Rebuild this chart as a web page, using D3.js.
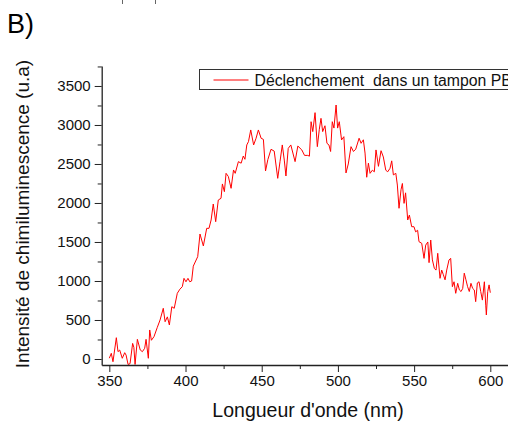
<!DOCTYPE html>
<html>
<head>
<meta charset="utf-8">
<script src="https://cdn.jsdelivr.net/npm/d3@7"></script>
<style>
  html, body { margin: 0; padding: 0; background: #fff; }
  svg { display: block; font-family: Arial, "Liberation Sans", sans-serif; }
</style>
</head>
<body>
<svg id="chart" width="508" height="428"></svg>
<script>
// Emission spectrum: wavelength (nm) and chemiluminescence intensity (a.u.)
const wavelength = [
  350.0, 351.3, 352.4, 354.6, 355.7, 356.8, 358.5, 360.1, 361.0, 362.3,
  363.6, 365.3, 366.1, 366.9, 368.4, 370.3, 371.7, 373.2, 374.1, 375.6,
  376.5, 377.6, 379.3, 381.5, 383.3, 385.4, 386.6, 388.1, 389.4, 391.0,
  392.6, 394.6, 396.3, 397.9, 399.0, 400.3, 401.6, 402.8, 404.0, 405.1,
  408.0, 409.5, 411.7, 413.9, 415.4, 416.8, 418.2, 419.8, 421.5, 423.3,
  424.2, 425.5, 426.6, 428.1, 429.9, 431.5, 432.6, 434.7, 436.5, 437.9,
  439.0, 440.2, 441.3, 442.8, 444.7, 446.3, 447.8, 449.6, 451.1, 452.5,
  454.0, 456.1, 458.2, 460.5, 462.0, 463.5, 464.8, 465.9, 467.4, 469.1,
  471.9, 473.7, 476.3, 478.1, 480.2, 481.3, 482.4, 483.5, 485.0, 486.5,
  487.8, 488.9, 490.0, 491.5, 492.8, 494.1, 495.2, 496.3, 497.4, 498.8,
  499.8, 500.9, 502.4, 503.9, 505.3, 506.8, 508.6, 510.2, 511.7, 513.9,
  515.2, 516.7, 517.8, 518.9, 520.0, 521.1, 522.6, 523.9, 525.0, 526.6,
  528.3, 529.8, 531.4, 532.7, 534.2, 535.3, 536.4, 538.0, 539.0, 540.1,
  541.4, 542.3, 543.4, 544.4, 545.8, 546.9, 548.4, 549.9, 551.0, 552.3,
  553.2, 555.0, 556.5, 557.6, 559.0, 559.8, 560.9, 562.0, 563.3, 564.4,
  565.5, 567.0, 568.1, 569.2, 570.3, 571.4, 572.9, 574.0, 575.1, 576.2,
  577.3, 578.6, 579.7, 580.8, 581.9, 582.9, 584.0, 585.1, 586.2, 587.3,
  588.4, 589.5, 590.4, 591.5, 592.6, 593.7, 594.8, 596.1, 597.0, 597.4,
  598.3, 599.2, 600.0
];
const intensity = [
    10,   73,  -35,  273,   94,  115,    9,   81,   50,  -70,
   -60,  200,  150,  -70,  252,  115,   94,  137,  252,    9,
   372,  240,  286,  406,  500,  650,  478,  540,  436,  670,
   650,  842,  895,  927, 1034,  990, 1034,  990, 1000, 1190,
  1312, 1602, 1449, 1675, 1675, 1782, 1987, 1760, 2038, 2060,
  2244, 2145, 2380, 2340, 2188, 2423, 2380, 2530, 2510, 2602,
  2560, 2744, 2786, 2936, 2744, 2830, 2936, 2830, 2815, 2410,
  2555, 2688, 2665, 2316, 2530, 2744, 2550, 2346, 2700, 2744,
  2530, 2730, 2680, 2610, 2610, 2600, 3042, 2915, 3158, 2722,
  2945, 3085, 2915, 2990, 2765, 2744, 2660, 3042, 2960, 3256,
  2960, 3042, 2808, 2850, 2385, 2500, 2722, 2660, 2690, 2830,
  2765, 2810, 2640, 2330, 2510, 2380, 2420, 2400, 2680, 2470,
  2670, 2590, 2420, 2400, 2445, 2540, 2360, 2380, 2230, 1932,
  2170, 2250, 1995, 2130, 1782, 1845, 1696, 1696, 1630, 1650,
  1504, 1483, 1290, 1460, 1500, 1235, 1525, 1270, 1160, 1140,
  1355, 1034, 1140, 1080, 1015, 1140, 1270, 1290,  927,  990,
   842,  970,  885,  865,  905, 1100, 1015,  927,  865,  970,
   905,  885,  735,  975,  990,  865,  755,  990,  690,  564,
   865,  950,  850
];

const xMajorTicks = [350, 400, 450, 500, 550, 600];
const xMinorTicks = [375, 425, 475, 525, 575];
const yMajorTicks = [0, 500, 1000, 1500, 2000, 2500, 3000, 3500];
const yMinorTicks = [250, 750, 1250, 1750, 2250, 2750, 3250, 3750];

const panelLabel = "B)";
const seriesName = "Déclenchement  dans un tampon PBS";
const xTitle = "Longueur d'onde (nm)";
const yTitle = "Intensité de chimiluminescence (u.a)";

const svg = d3.select("#chart");
const axisColor = "#222";
const lineColor = "#ff0000";

// Scales: plot frame runs from the y axis to past the right edge of the page
const x = d3.scaleLinear().domain([345, 612]).range([101.7, 508.6]);
const y = d3.scaleLinear().domain([-77, 3756]).range([365, 66]);

// Panel letter
svg.append("text")
  .attr("x", 7).attr("y", 33)
  .attr("font-size", 27).attr("fill", "#000")
  .text(panelLabel);

// Small marks at the very top edge
svg.append("g").selectAll("line").data([122, 155]).join("line")
  .attr("x1", d => d + 0.5).attr("x2", d => d + 0.5)
  .attr("y1", 0).attr("y2", 4)
  .attr("stroke", "#666").attr("stroke-width", 1);

// Spectrum line
const line = d3.line()
  .x((d, i) => x(wavelength[i]))
  .y(d => y(d));

svg.append("path")
  .datum(intensity)
  .attr("fill", "none")
  .attr("stroke", lineColor)
  .attr("stroke-width", 1)
  .attr("stroke-linejoin", "round")
  .attr("d", line);

// X axis: major and minor ticks
const xAxisY = y.range()[0];
const gx = svg.append("g").attr("transform", `translate(0,${xAxisY})`);
gx.call(d3.axisBottom(x).tickValues(xMajorTicks).tickSize(7).tickSizeOuter(0).tickPadding(3).tickFormat(d3.format("d")));
gx.append("g").call(d3.axisBottom(x).tickValues(xMinorTicks).tickSize(4).tickSizeOuter(0).tickFormat(""))
  .select(".domain").remove();
gx.selectAll(".domain").attr("stroke", axisColor).attr("stroke-width", 1.3);
gx.selectAll(".tick line").attr("stroke", axisColor).attr("stroke-width", 1);
gx.selectAll(".tick text").attr("font-size", 15).attr("fill", "#111")
  .attr("font-family", "Arial, 'Liberation Sans', sans-serif");

// Y axis: major and minor ticks
const yAxisX = x.range()[0];
const gy = svg.append("g").attr("transform", `translate(${yAxisX},0)`);
gy.call(d3.axisLeft(y).tickValues(yMajorTicks).tickSize(7).tickSizeOuter(0).tickPadding(4).tickFormat(d3.format("d")));
gy.append("g").call(d3.axisLeft(y).tickValues(yMinorTicks).tickSize(4).tickSizeOuter(0).tickFormat(""))
  .select(".domain").remove();
gy.selectAll(".domain").attr("stroke", axisColor).attr("stroke-width", 1.3);
gy.selectAll(".tick line").attr("stroke", axisColor).attr("stroke-width", 1);
gy.selectAll(".tick text").attr("font-size", 15).attr("fill", "#111")
  .attr("font-family", "Arial, 'Liberation Sans', sans-serif");

// Axis titles
svg.append("text")
  .attr("x", 308).attr("y", 417)
  .attr("text-anchor", "middle")
  .attr("font-size", 19.5).attr("fill", "#111")
  .text(xTitle);

svg.append("text")
  .attr("transform", "translate(29,214) rotate(-90)")
  .attr("text-anchor", "middle")
  .attr("font-size", 19).attr("fill", "#111")
  .text(yTitle);

// Legend
const legend = svg.append("g").attr("transform", "translate(199.5,69.5)");
legend.append("rect")
  .attr("width", 330).attr("height", 20)
  .attr("fill", "#fff").attr("stroke", "#333").attr("stroke-width", 1);
legend.append("line")
  .attr("x1", 14).attr("x2", 49).attr("y1", 10.5).attr("y2", 10.5)
  .attr("stroke", lineColor).attr("stroke-width", 1);
legend.append("text")
  .attr("x", 55).attr("y", 16)
  .attr("font-size", 15.8).attr("fill", "#111")
  .style("white-space", "pre")
  .text(seriesName);
</script>
</body>
</html>
